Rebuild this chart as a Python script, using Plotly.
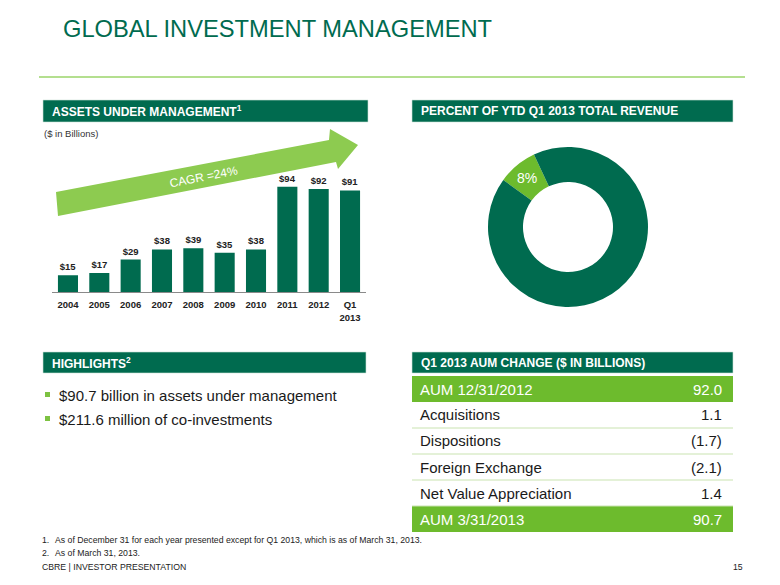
import plotly.graph_objects as go

# ---------------- data ----------------
years = ["2004", "2005", "2006", "2007", "2008", "2009", "2010", "2011", "2012", "Q1<br>2013"]
aum_billions = [15, 17, 29, 38, 39, 35, 38, 94, 92, 90.7]

pie_labels = ["Global Investment Management", "Other"]
pie_values = [8, 92]
pie_text = ["8%", ""]

table_labels = ["AUM 12/31/2012", "Acquisitions", "Dispositions", "Foreign Exchange",
                "Net Value Appreciation", "AUM 3/31/2013"]
table_values = ["92.0", "1.1", "(1.7)", "(2.1)", "1.4", "90.7"]
table_highlight = [True, False, False, False, False, True]

highlights = ["$90.7 billion in assets under management", "$211.6 million of co-investments"]

footnotes = ["As of December 31 for each year presented except for Q1 2013, which is as of March 31, 2013.",
             "As of March 31, 2013."]

# ---------------- style ----------------
OFF = 8  # default page body margin
W, H = 780 - 2 * OFF, 585 - 2 * OFF
DARK = "#006B4F"
LIGHT = "#6DBB2D"
ARROW = "#8DCB50"
FONT = "Liberation Sans, Arial, sans-serif"


def X(px):
    return (px - OFF) / W


def Y(py):
    return 1 - (py - OFF) / H


fig = go.Figure()

fig.add_trace(go.Bar(
    x=years, y=aum_billions,
    marker=dict(color=DARK, line=dict(width=0)),
    texttemplate="$%{y:.0f}", textposition="outside", cliponaxis=False,
    textfont=dict(family=FONT, size=9.5, color="#222222", weight="bold"),
    hoverinfo="x+y", showlegend=False,
))

fig.add_trace(go.Pie(
    labels=pie_labels, values=pie_values, text=pie_text, textinfo="text",
    hole=0.5625, sort=False, direction="clockwise", rotation=-54,
    marker=dict(colors=[LIGHT, DARK], line=dict(width=0)),
    textposition=["inside", "none"], insidetextorientation="horizontal",
    textfont=dict(family=FONT, size=14, color="white"),
    domain=dict(x=[X(488), X(648)], y=[Y(307), Y(147)]),
    showlegend=False,
))

shapes = []
annotations = []

# title + line
annotations.append(dict(text="GLOBAL INVESTMENT MANAGEMENT", x=X(61), y=Y(29), xref="paper", yref="paper",
                        xanchor="left", yanchor="middle", showarrow=False,
                        font=dict(family=FONT, size=23.7, color=DARK)))
shapes.append(dict(type="line", xref="paper", yref="paper", x0=X(39), x1=X(745), y0=Y(77), y1=Y(77),
                   line=dict(color="#9BD46A", width=1.5)))


def header(x0, x1, y0, y1, text):
    shapes.append(dict(type="rect", xref="paper", yref="paper", x0=X(x0), x1=X(x1), y0=Y(y1), y1=Y(y0),
                       fillcolor=DARK, line=dict(color="#CFE3D8", width=0.6), layer="below"))
    annotations.append(dict(text=text, x=X(x0 + 7), y=Y((y0 + y1) / 2), xref="paper", yref="paper",
                            xanchor="left", yanchor="middle", showarrow=False,
                            font=dict(family=FONT, size=12, color="white", weight="bold")))


header(43, 368, 100, 122, "ASSETS UNDER MANAGEMENT<sup>1</sup>")
header(412, 733, 100, 122, "PERCENT OF YTD Q1 2013 TOTAL REVENUE")
header(43, 366, 352, 373, "HIGHLIGHTS<sup>2</sup>")
header(412, 733, 352, 373, "Q1 2013 AUM CHANGE ($ IN BILLIONS)")

annotations.append(dict(text="($ in Billions)", x=X(42), y=Y(134), xref="paper", yref="paper",
                        xanchor="left", yanchor="middle", showarrow=False,
                        font=dict(family=FONT, size=9.5, color="#333333")))

# growth arrow (decoration)
pts = [(56, 192), (329, 140), (330, 129), (358, 145), (338, 169), (336, 162), (58, 216)]
path = "M " + " L ".join(f"{X(a):.5f},{Y(b):.5f}" for a, b in pts) + " Z"
shapes.append(dict(type="path", xref="paper", yref="paper", path=path, fillcolor=ARROW,
                   line=dict(width=0), layer="above"))
annotations.append(dict(text="CAGR =24%", x=X(203), y=Y(177), xref="paper", yref="paper",
                        xanchor="center", yanchor="middle", showarrow=False, textangle=-11,
                        font=dict(family=FONT, size=12, color="white")))

# highlights
for i, t in enumerate(highlights):
    yc = 395 + 24 * i
    shapes.append(dict(type="rect", xref="paper", yref="paper", x0=X(45), x1=X(50), y0=Y(yc + 2), y1=Y(yc - 3),
                       fillcolor="#7DC242", line=dict(width=0)))
    annotations.append(dict(text=t, x=X(57), y=Y(yc), xref="paper", yref="paper",
                            xanchor="left", yanchor="middle", showarrow=False,
                            font=dict(family=FONT, size=15, color="#1a1a1a")))

# table
row_h = 26
top = 376
for i, (lab, val, hl) in enumerate(zip(table_labels, table_values, table_highlight)):
    y0 = top + row_h * i
    y1 = y0 + row_h
    if hl:
        shapes.append(dict(type="rect", xref="paper", yref="paper", x0=X(412), x1=X(733), y0=Y(y1), y1=Y(y0),
                           fillcolor=LIGHT, line=dict(width=0), layer="below"))
    else:
        shapes.append(dict(type="line", xref="paper", yref="paper", x0=X(412), x1=X(733), y0=Y(y1), y1=Y(y1),
                           line=dict(color="#C9E3B0", width=1)))
    col = "white" if hl else "#1a1a1a"
    annotations.append(dict(text=lab, x=X(418), y=Y(y0 + row_h / 2), xref="paper", yref="paper",
                            xanchor="left", yanchor="middle", showarrow=False,
                            font=dict(family=FONT, size=15, color=col)))
    annotations.append(dict(text=val, x=X(724), y=Y(y0 + row_h / 2), xref="paper", yref="paper",
                            xanchor="right", yanchor="middle", showarrow=False,
                            font=dict(family=FONT, size=15, color=col)))

# footnotes
for i, t in enumerate(footnotes):
    yc = 540 + 13 * i
    annotations.append(dict(text=f"{i + 1}.", x=X(40), y=Y(yc), xref="paper", yref="paper",
                            xanchor="left", yanchor="middle", showarrow=False,
                            font=dict(family=FONT, size=8.7, color="#222222")))
    annotations.append(dict(text=t, x=X(53), y=Y(yc), xref="paper", yref="paper",
                            xanchor="left", yanchor="middle", showarrow=False,
                            font=dict(family=FONT, size=8.7, color="#222222")))
annotations.append(dict(text="CBRE | INVESTOR PRESENTATION", x=X(40), y=Y(567), xref="paper", yref="paper",
                        xanchor="left", yanchor="middle", showarrow=False,
                        font=dict(family=FONT, size=8.7, color="#222222")))
annotations.append(dict(text="15", x=X(745), y=Y(567), xref="paper", yref="paper",
                        xanchor="right", yanchor="middle", showarrow=False,
                        font=dict(family=FONT, size=8.7, color="#222222")))

fig.update_layout(
    width=W, height=H, margin=dict(l=0, r=0, t=0, b=0),
    paper_bgcolor="white", plot_bgcolor="white",
    bargap=0.36, shapes=shapes, annotations=annotations,
    xaxis=dict(domain=[X(52.3), X(365.7)], type="category", showgrid=False, zeroline=False,
               showline=True, linecolor="#8a8a8a", linewidth=1,
               ticks="outside", ticklen=4, tickcolor="rgba(0,0,0,0)",
               tickfont=dict(family=FONT, size=9.5, color="#222222", weight="bold"),
               fixedrange=True),
    yaxis=dict(domain=[Y(292), Y(180)], range=[0, 100], visible=False, fixedrange=True),
    font=dict(family=FONT),
)

fig.write_html("out.html")
